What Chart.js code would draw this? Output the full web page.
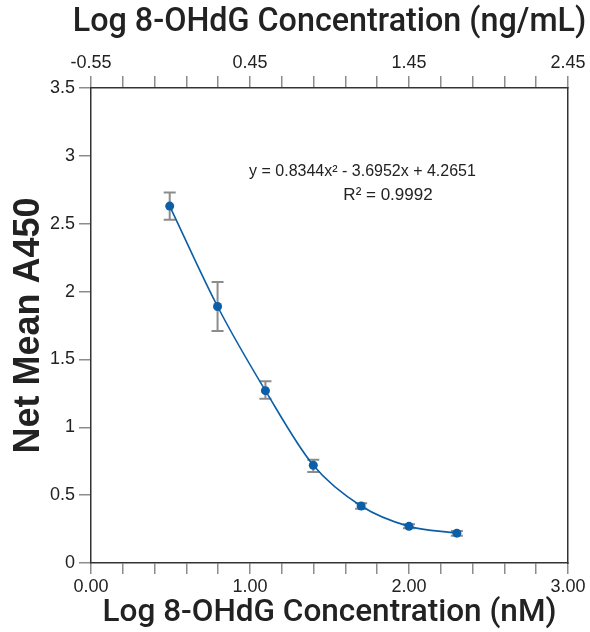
<!DOCTYPE html>
<html><head><meta charset="utf-8">
<script src="https://cdn.jsdelivr.net/npm/chart.js@4.4.1/dist/chart.umd.min.js"></script>
<style>html,body{margin:0;padding:0;background:#fff;}#wrap{width:590px;height:632px;}</style>
</head><body><div id="wrap"><canvas id="c" width="590" height="632"></canvas></div>
<script>
// ---- data ----
const logConcNM = [0.495, 0.796, 1.097, 1.398, 1.699, 2.000, 2.301];
const netMeanA450 = [2.63, 1.89, 1.27, 0.72, 0.42, 0.27, 0.22];
const errLow  = [2.53, 1.71, 1.21, 0.67, 0.40, 0.256, 0.20];
const errHigh = [2.73, 2.07, 1.34, 0.76, 0.44, 0.285, 0.236];
const bottomTickLabels = ['0.00', '1.00', '2.00', '3.00'];
const topTickLabels = ['-0.55', '0.45', '1.45', '2.45'];
const yTickLabels = ['0', '0.5', '1', '1.5', '2', '2.5', '3', '3.5'];
const equationLines = ['y = 0.8344x\u00B2 - 3.6952x + 4.2651', 'R\u00B2 = 0.9992'];
const titleTop = 'Log 8-OHdG Concentration (ng/mL)';
const titleBottom = 'Log 8-OHdG Concentration (nM)';
const titleLeft = 'Net Mean A450';

// ---- styling ----
const BLUE = '#0b5ea8';
const TICK = '#8c8c8c';
const AXIS = '#333333';
const TXT = '#222222';
const TITLE_FONT = "Roboto, 'Liberation Sans', sans-serif";
const TITLE_SIZE = 31.5;
const TOP_TITLE_SIZE = 32.3;
const TICK_FONT = "'Liberation Sans', Arial, sans-serif";

function stepTicks(min, max, step) {
  const out = [];
  const n = Math.round((max - min) / step);
  for (let i = 0; i <= n; i++) out.push({ value: +(min + i * step).toFixed(4) });
  return out;
}

const errorBars = {
  id: 'errorBars',
  beforeDatasetsDraw(chart) {
    const { ctx, scales: { x, y } } = chart;
    ctx.save();
    ctx.strokeStyle = TICK;
    ctx.lineWidth = 2;
    logConcNM.forEach((v, i) => {
      const px = x.getPixelForValue(v);
      const yl = y.getPixelForValue(errLow[i]);
      const yh = y.getPixelForValue(errHigh[i]);
      ctx.beginPath();
      ctx.moveTo(px, yl); ctx.lineTo(px, yh);
      ctx.moveTo(px - 6, yl); ctx.lineTo(px + 6, yl);
      ctx.moveTo(px - 6, yh); ctx.lineTo(px + 6, yh);
      ctx.stroke();
    });
    ctx.restore();
  }
};

const texts = {
  id: 'texts',
  afterDatasetsDraw(chart) {
    const { ctx, chartArea, scales: { x, y } } = chart;
    ctx.save();
    ctx.fillStyle = TXT;
    ctx.textAlign = 'center';
    ctx.textBaseline = 'middle';
    ctx.font = "16px 'Liberation Sans', Arial, sans-serif";
    ctx.fillText(equationLines[0], x.getPixelForValue(1.7075), y.getPixelForValue(2.885));
    ctx.font = "17px 'Liberation Sans', Arial, sans-serif";
    ctx.fillText(equationLines[1], x.getPixelForValue(1.868), y.getPixelForValue(2.712));
    // top axis title (drawn here so that it may be wider than the axis)
    ctx.font = '500 ' + TOP_TITLE_SIZE + 'px ' + TITLE_FONT;
    ctx.fillText(titleTop, (chartArea.left + chartArea.right) / 2, 22.5);
    ctx.restore();
  }
};

new Chart(document.getElementById('c'), {
  type: 'line',
  data: {
    datasets: [{
      data: logConcNM.map((v, i) => ({ x: v, y: netMeanA450[i] })),
      borderColor: BLUE,
      backgroundColor: BLUE,
      borderWidth: 1.6,
      pointRadius: 4.5,
      pointBorderWidth: 0,
      pointBackgroundColor: BLUE,
      cubicInterpolationMode: 'monotone',
      fill: false
    }]
  },
  options: {
    responsive: false,
    animation: false,
    devicePixelRatio: 1,
    layout: { padding: 0 },
    plugins: { legend: { display: false }, tooltip: { enabled: false } },
    scales: {
      x: {
        type: 'linear', position: 'bottom', min: 0, max: 3,
        afterBuildTicks: s => { s.ticks = stepTicks(0, 3, 0.2); },
        afterFit: s => { s.height = 69; },
        ticks: {
          autoSkip: false, maxRotation: 0, padding: 2, color: TXT,
          font: { family: TICK_FONT, size: 18 },
          callback: (v, i) => (i % 5 === 0 ? bottomTickLabels[i / 5] : '')
        },
        grid: { drawOnChartArea: false, tickLength: 11, color: TICK, lineWidth: 1.5 },
        border: { color: AXIS, width: 1.5 },
        title: { display: true, text: titleBottom, color: TXT, padding: { top: 0, bottom: 0 },
                 font: { family: TITLE_FONT, size: TITLE_SIZE, weight: 500 } }
      },
      x2: {
        type: 'linear', position: 'top', min: -0.55, max: 2.45,
        afterBuildTicks: s => { s.ticks = stepTicks(-0.55, 2.45, 0.2); },
        afterFit: s => { s.height = 88; },
        ticks: {
          autoSkip: false, maxRotation: 0, padding: 2, color: TXT,
          font: { family: TICK_FONT, size: 18 },
          callback: (v, i) => (i % 5 === 0 ? topTickLabels[i / 5] : '')
        },
        grid: { drawOnChartArea: false, tickLength: 12, color: TICK, lineWidth: 1.5 },
        border: { color: AXIS, width: 1.5 },
        title: { display: false }
      },
      y: {
        type: 'linear', position: 'left', min: 0, max: 3.5,
        afterBuildTicks: s => { s.ticks = stepTicks(0, 3.5, 0.5); },
        afterFit: s => { s.width = 91; },
        ticks: {
          autoSkip: false, padding: 4, color: TXT,
          font: { family: TICK_FONT, size: 18 },
          callback: (v, i) => yTickLabels[i]
        },
        grid: { drawOnChartArea: false, tickLength: 12, color: TICK, lineWidth: 1.5 },
        border: { color: AXIS, width: 1.5 },
        title: { display: true, text: titleLeft, color: TXT, padding: { top: 7, bottom: 0 },
                 font: { family: "'Liberation Sans', Arial, sans-serif", size: 36, weight: 'bold' } }
      },
      y2: {
        type: 'linear', position: 'right', min: 0, max: 3.5,
        afterFit: s => { s.width = 22; },
        ticks: { display: false },
        grid: { display: false, drawTicks: false },
        border: { display: true, color: AXIS, width: 1.5 }
      }
    }
  },
  plugins: [errorBars, texts]
});
</script>
</body></html>
